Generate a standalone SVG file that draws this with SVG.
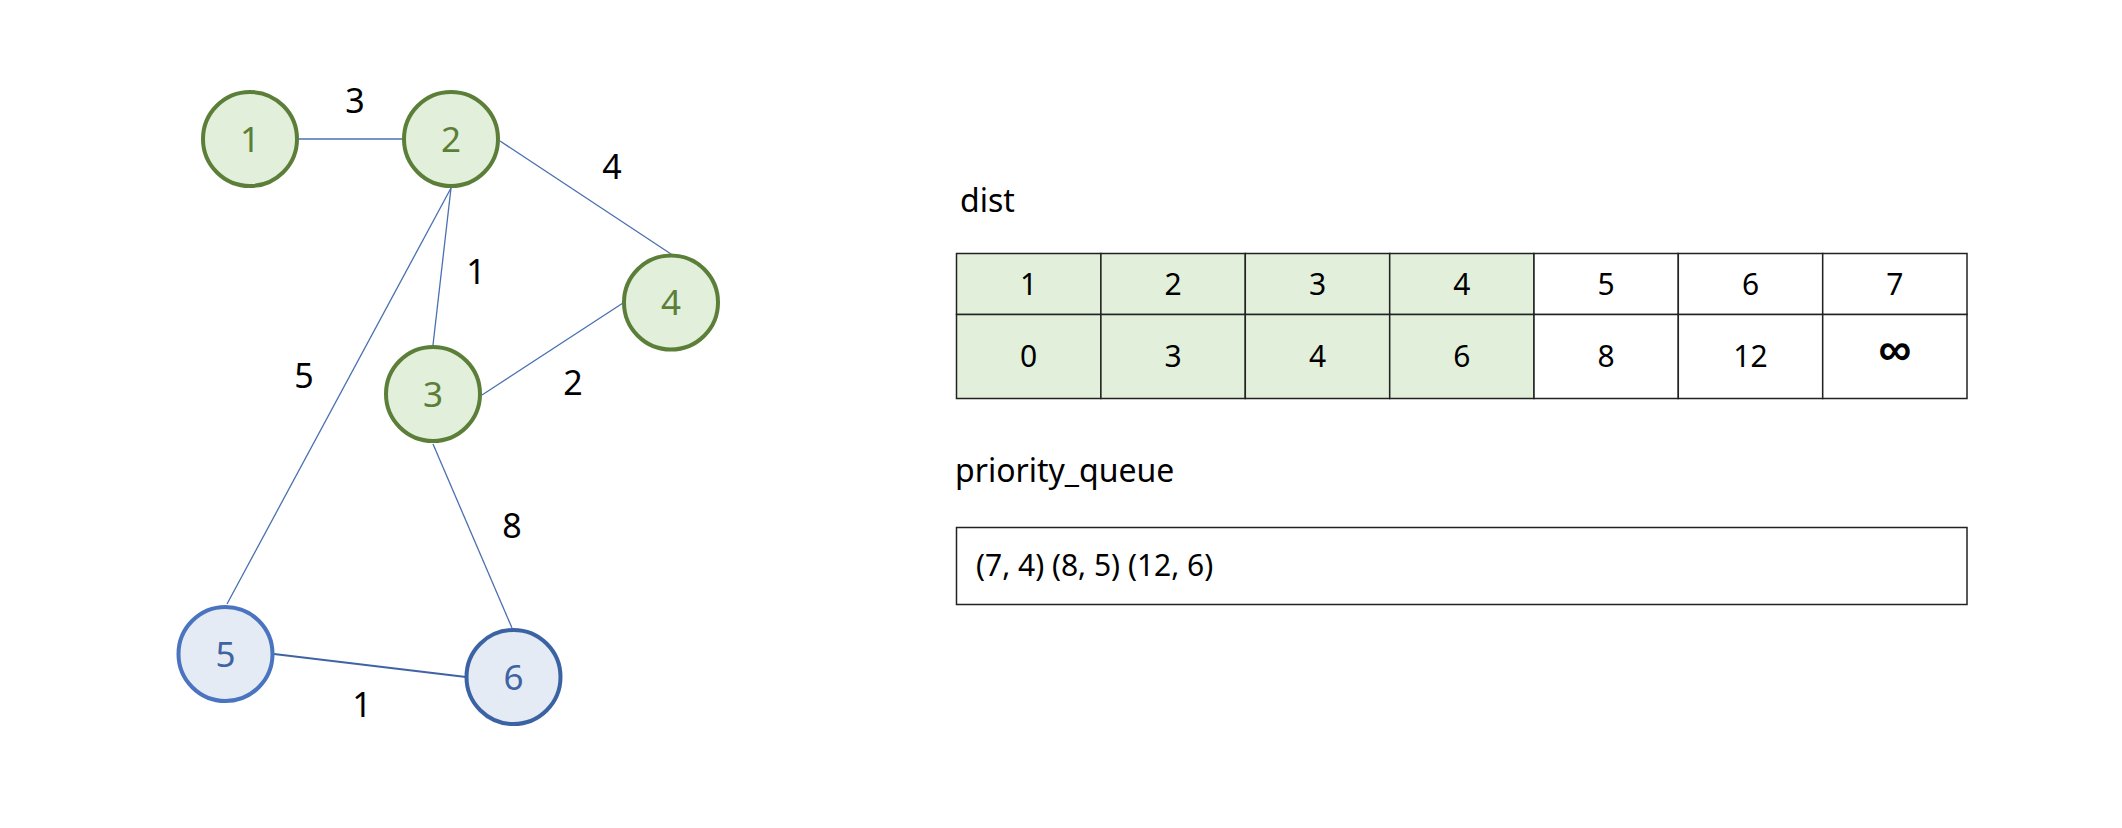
<svg xmlns="http://www.w3.org/2000/svg" width="2122" height="828" viewBox="0 0 2122 828">
<style>
.t{font-family:"Noto Sans","Open Sans","Liberation Sans",sans-serif;}
.edge{stroke:#4A70B0;stroke-width:1.3;fill:none;}
.ew{font-size:34px;fill:#000;text-anchor:middle;}
.gn circle{fill:#E2EFDA;stroke:#5B7F38;stroke-width:4;}
.gn text{font-size:35px;fill:#5B7F38;text-anchor:middle;}
.bn circle{fill:#E4EBF4;stroke:#4A74C0;stroke-width:4;}
.bn text{font-size:35px;fill:#3F64A3;text-anchor:middle;}
.cell{stroke:#222;stroke-width:1.5;}
.vis{fill:#E2EFDA;}
.unv{fill:#FFFFFF;}
.ct{font-size:30px;fill:#000;text-anchor:middle;}
.lbl{font-size:32px;fill:#000;}
.inf{font-family:"Liberation Sans",sans-serif;font-size:46px;font-weight:bold;fill:#000;text-anchor:middle;}
</style>
<rect width="2122" height="828" fill="#FFFFFF"/>
<g id="connectors">
<line class="edge" x1="299" y1="139" x2="403" y2="139"/>
<line class="edge" x1="500" y1="141" x2="671" y2="254"/>
<line class="edge" x1="451" y1="188" x2="433" y2="345"/>
<line class="edge" x1="451" y1="188" x2="227" y2="604"/>
<line class="edge" x1="482" y1="395" x2="623" y2="303"/>
<line class="edge" x1="433" y1="444" x2="512" y2="628"/>
<line class="edge" x1="274" y1="654" x2="466" y2="677" style="stroke-width:2.2;stroke:#3F64A3"/>
</g>
<g id="edge-labels" class="t">
<text class="ew" x="355" y="113">3</text>
<text class="ew" x="476" y="284">1</text>
<text class="ew" x="612" y="179">4</text>
<text class="ew" x="304" y="388">5</text>
<text class="ew" x="573" y="395">2</text>
<text class="ew" x="512" y="538">8</text>
<text class="ew" x="362" y="717">1</text>
</g>
<g id="node1" class="gn t"><circle cx="250" cy="139" r="47"/><text x="250" y="151.5">1</text></g>
<g id="node2" class="gn t"><circle cx="451" cy="139" r="47"/><text x="451" y="151.5">2</text></g>
<g id="node3" class="gn t"><circle cx="433" cy="394" r="47"/><text x="433" y="406.5">3</text></g>
<g id="node4" class="gn t"><circle cx="671" cy="302.5" r="47"/><text x="671" y="315">4</text></g>
<g id="node5" class="bn t"><circle cx="225.5" cy="654" r="47"/><text x="225.5" y="666.5">5</text></g>
<g id="node6" class="bn t"><circle cx="513.5" cy="677" r="47" style="stroke:#3B63A3"/><text x="513.5" y="689.5">6</text></g>
<g id="dist-label" class="t"><text class="lbl" x="960" y="212">dist</text></g>
<g id="dist-table" class="t">
<rect class="cell vis" x="956.5" y="253.5" width="144.4" height="61"/>
<rect class="cell vis" x="1100.9" y="253.5" width="144.4" height="61"/>
<rect class="cell vis" x="1245.3" y="253.5" width="144.4" height="61"/>
<rect class="cell vis" x="1389.7" y="253.5" width="144.3" height="61"/>
<rect class="cell unv" x="1534" y="253.5" width="144.3" height="61"/>
<rect class="cell unv" x="1678.3" y="253.5" width="144.4" height="61"/>
<rect class="cell unv" x="1822.7" y="253.5" width="144.3" height="61"/>
<rect class="cell vis" x="956.5" y="314.5" width="144.4" height="84"/>
<rect class="cell vis" x="1100.9" y="314.5" width="144.4" height="84"/>
<rect class="cell vis" x="1245.3" y="314.5" width="144.4" height="84"/>
<rect class="cell vis" x="1389.7" y="314.5" width="144.3" height="84"/>
<rect class="cell unv" x="1534" y="314.5" width="144.3" height="84"/>
<rect class="cell unv" x="1678.3" y="314.5" width="144.4" height="84"/>
<rect class="cell unv" x="1822.7" y="314.5" width="144.3" height="84"/>
<text class="ct" x="1028.7" y="294.5">1</text>
<text class="ct" x="1173.1" y="294.5">2</text>
<text class="ct" x="1317.5" y="294.5">3</text>
<text class="ct" x="1461.8" y="294.5">4</text>
<text class="ct" x="1606.2" y="294.5">5</text>
<text class="ct" x="1750.5" y="294.5">6</text>
<text class="ct" x="1894.8" y="294.5">7</text>
<text class="ct" x="1028.7" y="367">0</text>
<text class="ct" x="1173.1" y="367">3</text>
<text class="ct" x="1317.5" y="367">4</text>
<text class="ct" x="1461.8" y="367">6</text>
<text class="ct" x="1606.2" y="367">8</text>
<text class="ct" x="1750.5" y="367">12</text>
<text class="inf" x="1894.8" y="365">∞</text>
</g>
<g id="pq-label" class="t"><text class="lbl" x="955" y="482">priority_queue</text></g>
<g id="pq-box" class="t">
<rect class="cell unv" x="956.5" y="527.5" width="1010.5" height="77"/>
<text x="976" y="576" style="font-size:30px;fill:#000">(7, 4) (8, 5) (12, 6)</text>
</g>
</svg>
